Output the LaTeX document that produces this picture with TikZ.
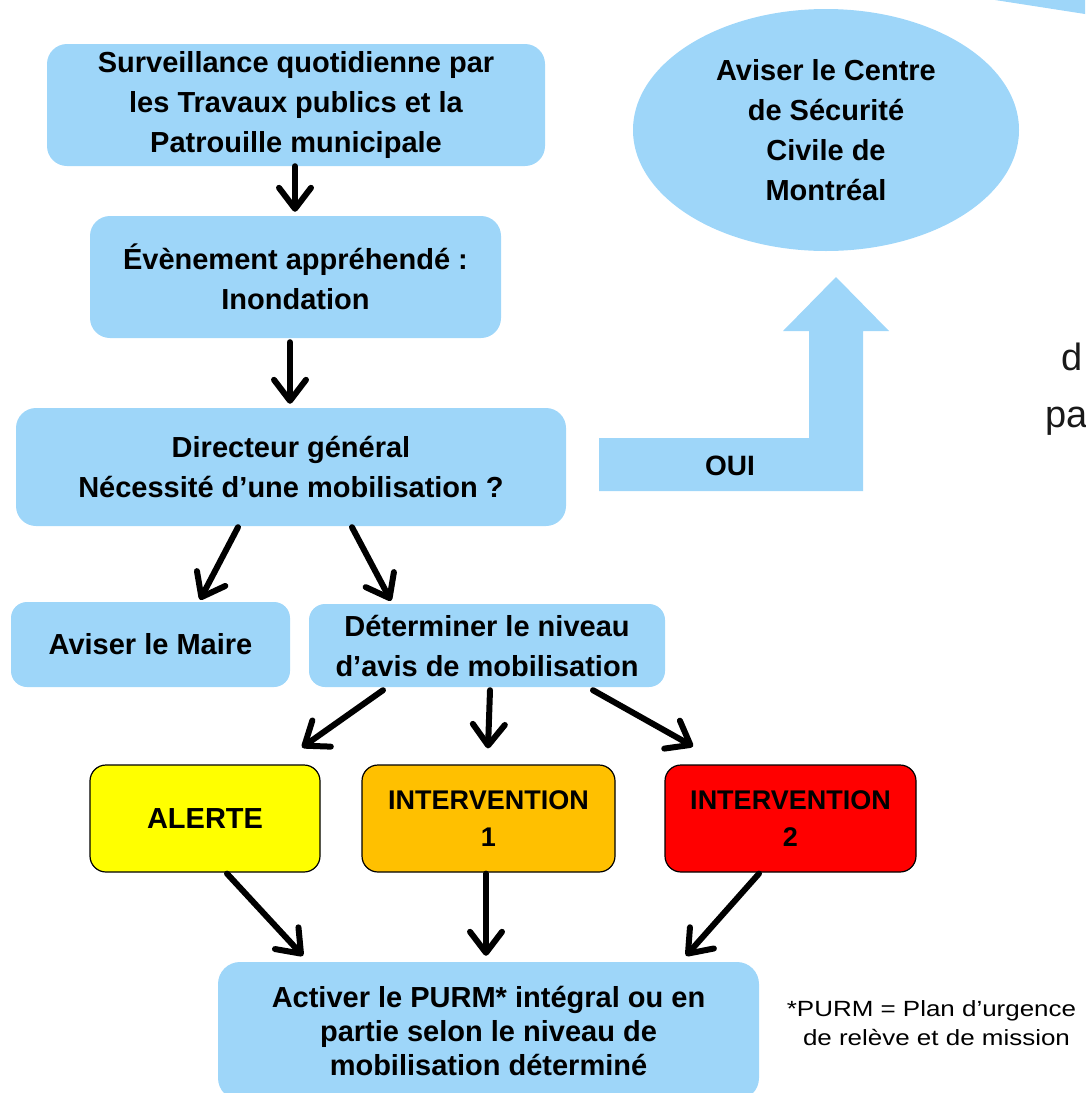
\documentclass[tikz,border=0pt]{standalone}
\usepackage{fontspec}
\setmainfont{Liberation Sans}
\newfontfamily\fnfont[FakeStretch=1.18]{Liberation Sans}
\usetikzlibrary{shapes.geometric,arrows.meta,calc}
\definecolor{lblue}{RGB}{158,214,249}
\definecolor{alyellow}{RGB}{255,255,0}
\definecolor{intone}{RGB}{255,192,0}
\definecolor{inttwo}{RGB}{255,0,0}
\begin{document}
\begin{tikzpicture}[x=1pt,y=-1pt,
  bluebox/.style={fill=lblue,draw=none,rounded corners=20pt,align=center,inner sep=0pt,
    font=\fontsize{29}{40}\selectfont\bfseries},
  levelbox/.style={draw=black,line width=1.2pt,rounded corners=16pt,align=center,inner sep=0pt,
    minimum height=107pt},
  arr/.style={line width=6pt,line cap=round,-{Straight Barb[length=21pt,width=32pt,round]}},
]
\useasboundingbox (0,0) rectangle (1085,1093);
\clip (0,0) rectangle (1085,1093);

% top-right sliver of an outside shape
\fill[lblue] (995,0) -- (1085,0) -- (1085,14) -- cycle;

% main boxes
\node[bluebox,minimum width=498pt,minimum height=122pt] (surv) at (296,105)
  {Surveillance quotidienne par\\les Travaux publics et la\\Patrouille municipale};
\node[bluebox,minimum width=411pt,minimum height=122pt] (even) at (295.5,277)
  {Évènement appréhendé :\\Inondation};
\node[bluebox,minimum width=550pt,minimum height=118pt] (dir) at (291,467)
  {Directeur général\\Nécessité d’une mobilisation ?};
\node[bluebox,rounded corners=16pt,minimum width=279pt,minimum height=85pt] (maire) at (150.5,644.5)
  {Aviser le Maire};
\node[bluebox,rounded corners=16pt,minimum width=356pt,minimum height=83pt] (determ) at (487,645.5)
  {Déterminer le niveau\\d’avis de mobilisation};

% ellipse
\node[ellipse,fill=lblue,draw=none,inner sep=0pt,minimum width=386pt,minimum height=242pt,align=center,
  font=\fontsize{29}{40}\selectfont\bfseries] (centre) at (826,130)
  {Aviser le Centre\\de Sécurité\\Civile de\\Montréal};

% level boxes
\node[levelbox,fill=alyellow,minimum width=230pt,font=\fontsize{29}{37}\selectfont\bfseries] (alerte) at (205,818.5) {ALERTE};
\node[levelbox,fill=intone,minimum width=253pt,font=\fontsize{27}{37}\selectfont\bfseries] (int1) at (488.5,818.5) {INTERVENTION\\1};
\node[levelbox,fill=inttwo,minimum width=251pt,font=\fontsize{27}{37}\selectfont\bfseries] (int2) at (790.5,818.5) {INTERVENTION\\2};

% bottom box
\node[bluebox,rounded corners=22pt,minimum width=541pt,minimum height=138pt,
  font=\fontsize{29}{34}\selectfont\bfseries] (purm) at (488.5,1031)
  {Activer le PURM* intégral ou en\\partie selon le niveau de\\mobilisation déterminé};

% OUI block arrow
\fill[lblue] (599,438) -- (809,438) -- (809,331) -- (783,331) -- (836,277) -- (889,331)
  -- (863,331) -- (863,491) -- (599,491) -- cycle;
\node[font=\fontsize{28}{34}\selectfont\bfseries,inner sep=0pt] (oui) at (730,466) {OUI};

% footnote
\node[anchor=base,inner sep=0pt,font=\fontsize{22}{29}\fnfont] (fn1) at (931.5,1016) {*PURM = Plan d’urgence};
\node[anchor=base,inner sep=0pt,font=\fontsize{22}{29}\fnfont] (fn2) at (936.5,1045) {de relève et de mission};

% cut-off text at right edge
\node[anchor=base west,inner sep=0pt,font=\fontsize{38}{50}\selectfont,text=black!90] (tx1) at (1061,370) {d};
\node[anchor=base west,inner sep=0pt,font=\fontsize{38}{50}\selectfont,text=black!90] (tx2) at (1045,427) {pa};

% connectors
\draw[arr] ($(surv.south)+(-1,0)$) -- ($(even.north)+(-0.5,-4)$);
\draw[arr] ($(even.south)+(-5.5,4)$) -- ($(dir.north)+(-1,-4)$);
\draw[arr] ($(dir.south)+(-53,1)$) -- ($(maire.north)+(49.5,-2)$);
\draw[arr] ($(dir.south)+(61,1)$) -- ($(determ.north)+(-96,-3)$);
\draw[arr] ($(determ.south)+(-104,3)$) -- ($(alerte.north)+(97,-17)$);
\draw[arr] ($(determ.south)+(3,3)$) -- ($(int1.north)+(-0.5,-16)$);
\draw[arr] ($(determ.south)+(106,3)$) -- ($(int2.north)+(-97.5,-18)$);
\draw[arr] ($(alerte.south)+(22,1)$) -- ($(purm.north)+(-185.5,-6)$);
\draw[arr] ($(int1.south)+(-2.5,1)$) -- ($(purm.north)+(-2.5,-6)$);
\draw[arr] ($(int2.south)+(-31.5,1)$) -- ($(purm.north)+(197.5,-6)$);
\end{tikzpicture}
\end{document}
